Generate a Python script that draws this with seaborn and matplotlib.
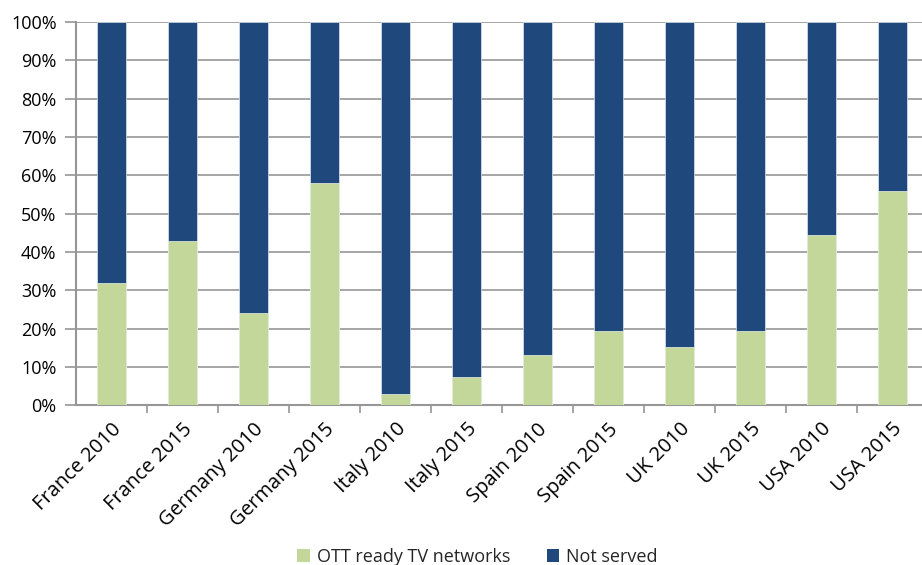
import matplotlib
matplotlib.use("Agg")
import matplotlib.pyplot as plt
import seaborn as sns
import pandas as pd
import numpy as np
from matplotlib.patches import Patch
from matplotlib.ticker import FixedLocator, PercentFormatter

categories = ["France 2010", "France 2015", "Germany 2010", "Germany 2015",
              "Italy 2010", "Italy 2015", "Spain 2010", "Spain 2015",
              "UK 2010", "UK 2015", "USA 2010", "USA 2015"]
ott_ready = [32.0, 42.8, 24.1, 57.9, 3.0, 7.5, 13.0, 19.5, 15.2, 19.4, 44.4, 55.8]
not_served = [68.0, 57.2, 75.9, 42.1, 97.0, 92.5, 87.0, 80.5, 84.8, 80.6, 55.6, 44.2]
series_names = ["OTT ready TV networks", "Not served"]
yticks = [0, 10, 20, 30, 40, 50, 60, 70, 80, 90, 100]

green = "#C4D79B"
navy = "#1F497D"
grid_c = "#969696"

sns.set_theme(style="white")
plt.rcParams['font.family'] = ['Open Sans', 'DejaVu Sans']

df = pd.DataFrame({"cat": categories, "ott": ott_ready, "ns": not_served})
df["total"] = df["ott"] + df["ns"]

fig = plt.figure(figsize=(9.22, 5.65), dpi=100)
ax = fig.add_axes([76/922, 1-405.3/565, 852/922, (405.3-22)/565])

sns.barplot(data=df, x="cat", y="total", color=navy, width=0.4, ax=ax,
            saturation=1, edgecolor="#dfe6ee", linewidth=0.5, zorder=3)
sns.barplot(data=df, x="cat", y="ott", color=green, width=0.4, ax=ax,
            saturation=1, edgecolor="#eef3e4", linewidth=0.5, zorder=4)

ax.set_xlim(-0.5, len(categories) - 0.5)
ax.set_ylim(0, 100)
ax.set_yticks(yticks)
ax.yaxis.set_major_formatter(PercentFormatter(decimals=0))
ax.grid(axis="y", color=grid_c, linewidth=1.2, zorder=0)
ax.set_axisbelow(True)
ax.set_xlabel("")
ax.set_ylabel("")

for s in ["top", "right"]:
    ax.spines[s].set_visible(False)
for s in ["left", "bottom"]:
    ax.spines[s].set_color(grid_c)
    ax.spines[s].set_linewidth(1.5)

ax.tick_params(axis="y", which="major", length=8, width=1.2, color=grid_c,
               labelsize=13, labelcolor="black", pad=6, left=True)
ax.tick_params(axis="x", which="major", length=0, labelsize=14.5,
               labelcolor="black", pad=10)
ax.xaxis.set_minor_locator(FixedLocator(np.arange(0.5, len(categories) - 0.5, 1)))
ax.tick_params(axis="x", which="minor", length=6, width=1.2, color=grid_c, bottom=True)

for lab in ax.get_xticklabels():
    lab.set_rotation(45)
    lab.set_ha("right")
    lab.set_rotation_mode("anchor")

handles = [Patch(facecolor=green, edgecolor="none", label=series_names[0]),
           Patch(facecolor=navy, edgecolor="none", label=series_names[1])]
fig.legend(handles=handles, loc="lower center", bbox_to_anchor=(0.518, -0.03),
           ncol=2, frameon=False, fontsize=13, handlelength=0.7,
           handleheight=0.7, handletextpad=0.4, columnspacing=2.0)

fig.savefig("out.png", dpi=100)
